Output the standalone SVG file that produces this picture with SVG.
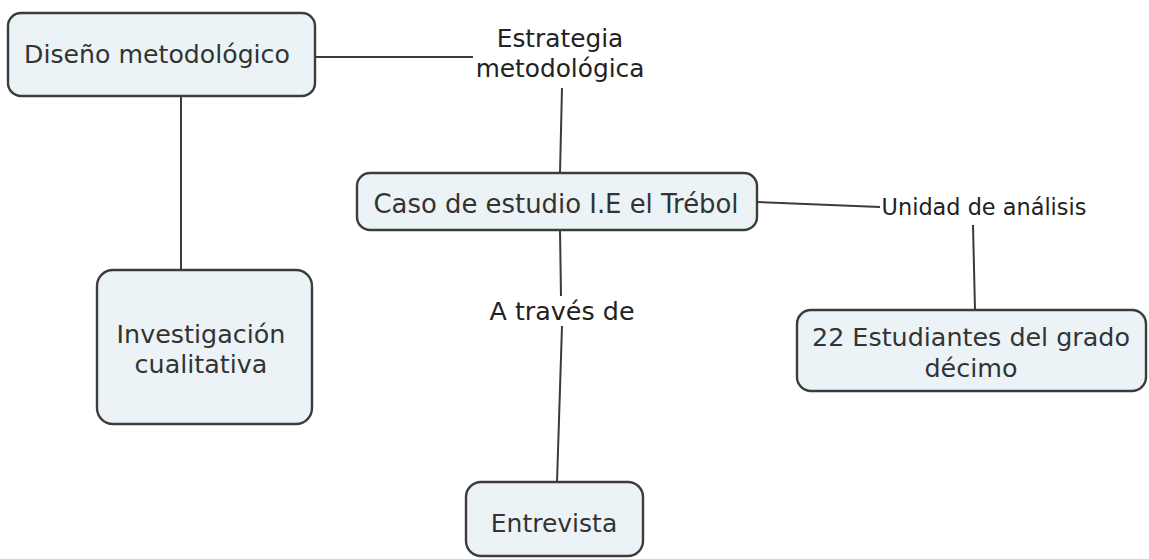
<svg xmlns="http://www.w3.org/2000/svg" width="1149" height="559" viewBox="0 0 1149 559">
<style>
.box{fill:#ecf3f6;stroke:#3c3c3c;stroke-width:2.4}
.t{font-family:"DejaVu Sans","Verdana",sans-serif;font-size:25.4px;fill:#333;text-anchor:middle}
.lbl{font-family:"DejaVu Sans","Verdana",sans-serif;font-size:25.4px;fill:#222;text-anchor:middle}
.c{stroke:#3a3a3a;stroke-width:2;fill:none}
</style>
<rect width="1149" height="559" fill="#fff"/>
<g id="connectors">
<line class="c" x1="315" y1="57" x2="473" y2="57"/>
<line class="c" x1="562" y1="88" x2="560" y2="173"/>
<line class="c" x1="181" y1="96" x2="181" y2="270"/>
<line class="c" x1="757" y1="202" x2="880" y2="207"/>
<line class="c" x1="973" y1="225" x2="975" y2="310"/>
<line class="c" x1="560" y1="230" x2="561" y2="296"/>
<line class="c" x1="562" y1="326" x2="557" y2="482"/>
</g>
<g id="n-diseno">
<rect class="box" x="8" y="13" width="307" height="83" rx="13"/>
<text class="t" x="157" y="63" style="font-size:25.2px">Diseño metodológico</text>
</g>
<g id="l-estrategia">
<text class="lbl" x="560" y="47" style="font-size:24.8px">Estrategia</text>
<text class="lbl" x="560" y="77" style="font-size:24.8px">metodológica</text>
</g>
<g id="n-caso">
<rect class="box" x="357" y="173" width="400" height="57" rx="13"/>
<text class="t" x="556" y="213" style="font-size:25.9px">Caso de estudio I.E el Trébol</text>
</g>
<g id="l-unidad">
<text class="lbl" x="984" y="215" style="font-size:22.4px">Unidad de análisis</text>
</g>
<g id="n-investigacion">
<rect class="box" x="97" y="270" width="215" height="154" rx="16"/>
<text class="t" x="201" y="343">Investigación</text>
<text class="t" x="201" y="373">cualitativa</text>
</g>
<g id="l-traves">
<text class="lbl" x="562" y="320">A través de</text>
</g>
<g id="n-estudiantes">
<rect class="box" x="797" y="310" width="349" height="81" rx="14"/>
<text class="t" x="971" y="346">22 Estudiantes del grado</text>
<text class="t" x="971" y="377">décimo</text>
</g>
<g id="n-entrevista">
<rect class="box" x="466" y="482" width="177" height="74" rx="15"/>
<text class="t" x="554" y="532" style="font-size:25px">Entrevista</text>
</g>
</svg>
